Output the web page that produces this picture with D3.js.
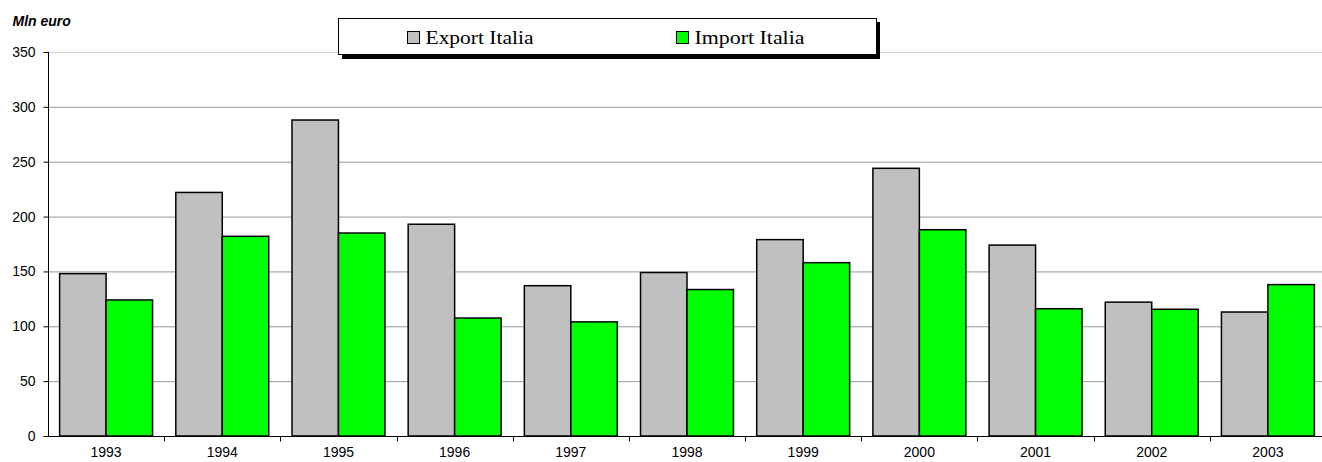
<!DOCTYPE html>
<html><head><meta charset="utf-8">
<script src="https://cdn.jsdelivr.net/npm/d3@7"></script>
<style>body{margin:0;background:#fff}svg{display:block}</style>
</head><body>
<svg id="c" width="1322" height="462"></svg>
<script>
const years = ["1993","1994","1995","1996","1997","1998","1999","2000","2001","2002","2003"];
const exportItalia = [148, 222, 288, 193, 137, 149, 179, 244, 174, 122, 113];
const importItalia = [124, 182, 185, 107.5, 104, 133.5, 158, 188, 116, 115.5, 138];
const yTicks = [0, 50, 100, 150, 200, 250, 300, 350];
const seriesNames = ["Export Italia", "Import Italia"];
const colors = ["#C0C0C0", "#00FF00"];

const svg = d3.select("#c");
const x = d3.scaleBand().domain(years).range([48, 1326]).padding(0);
const y = d3.scaleLinear().domain([0, 350]).range([436, 52]);
const font = "'Liberation Sans', Arial, sans-serif";

// gridlines
svg.append("g").selectAll("line").data(yTicks.filter(d => d > 0)).join("line")
  .attr("x1", 48).attr("x2", 1326)
  .attr("y1", d => y(d) + 0.5).attr("y2", d => y(d) + 0.5)
  .attr("stroke", d => d === 350 ? "#d8d8d8" : "#999").attr("stroke-width", 1);

// bars
const bw = x.bandwidth() * 0.4, off = x.bandwidth() * 0.1;
const data = [exportItalia, importItalia];
data.forEach((vals, si) => {
  svg.append("g").selectAll("rect").data(vals).join("rect")
    .attr("x", (d, i) => x(years[i]) + off + si * bw)
    .attr("y", d => y(d))
    .attr("width", bw)
    .attr("height", d => y(0) - y(d))
    .attr("fill", colors[si])
    .attr("stroke", "#000").attr("stroke-width", 1.5);
});

// y axis
const ya = svg.append("g").attr("transform", "translate(48.5,0)")
  .call(d3.axisLeft(y).tickValues(yTicks).tickSize(5).tickPadding(8));
ya.select(".domain").attr("stroke", "#000").attr("d", `M0,${y(350)}V${y(0)}`);
ya.selectAll("text").attr("font-family", font).attr("font-size", 14).attr("fill", "#000");

// x axis
const xa = svg.append("g").attr("transform", `translate(0,${y(0) + 0.5})`);
xa.append("line").attr("x1", 48).attr("x2", 1326).attr("stroke", "#000");
xa.selectAll("line.t").data(years.slice(1)).join("line").attr("class", "t")
  .attr("x1", d => Math.round(x(d)) + 0.5).attr("x2", d => Math.round(x(d)) + 0.5)
  .attr("y1", 0).attr("y2", 5).attr("stroke", "#000");
xa.selectAll("text").data(years).join("text")
  .attr("x", d => x(d) + x.bandwidth() / 2).attr("y", 20.5)
  .attr("text-anchor", "middle").attr("font-family", font).attr("font-size", 14)
  .text(d => d);

// title
svg.append("text").attr("x", 12.5).attr("y", 26)
  .attr("font-family", font).attr("font-size", 14).attr("font-weight", "bold")
  .attr("font-style", "italic").text("Mln euro");

// legend
const lg = svg.append("g");
lg.append("rect").attr("x", 342).attr("y", 22).attr("width", 538).attr("height", 37).attr("fill", "#000");
lg.append("rect").attr("x", 338.5).attr("y", 18.5).attr("width", 538).attr("height", 36)
  .attr("fill", "#fff").attr("stroke", "#000").attr("stroke-width", 1);
const lx = [407, 676];
const lw = [108, 110];
seriesNames.forEach((n, i) => {
  lg.append("rect").attr("x", lx[i] + 0.5).attr("y", 31.5).attr("width", 12).attr("height", 12)
    .attr("fill", colors[i]).attr("stroke", "#000").attr("stroke-width", 1);
  lg.append("text").attr("x", lx[i] + 18.5).attr("y", 43.5)
    .attr("font-family", "'Liberation Serif', 'Times New Roman', serif").attr("font-size", 19)
    .attr("textLength", lw[i]).attr("lengthAdjust", "spacingAndGlyphs")
    .text(n);
});
</script>
</body></html>
